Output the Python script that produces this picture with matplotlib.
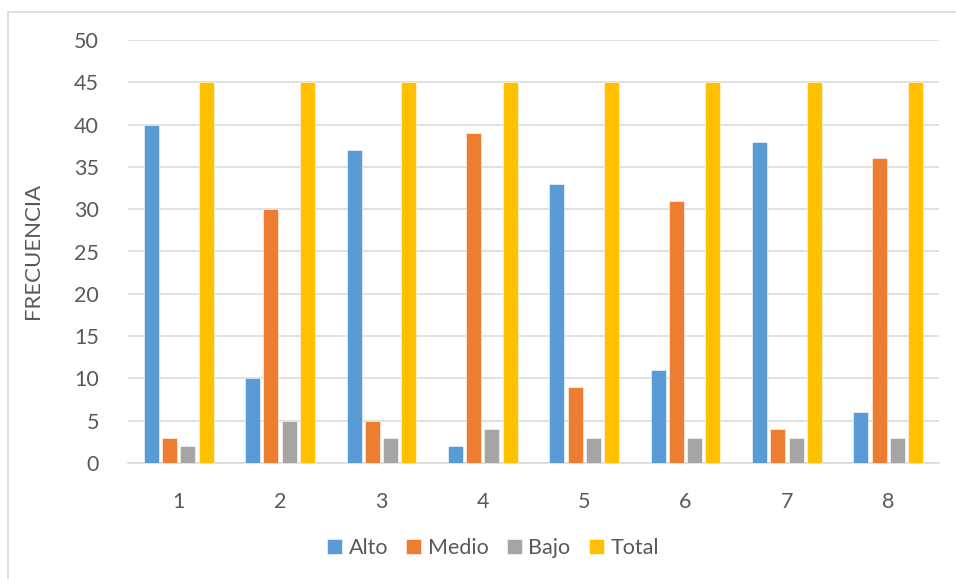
import matplotlib
matplotlib.use("Agg")
import matplotlib.pyplot as plt
import matplotlib.patches as mpatches
import numpy as np

categories = ["1", "2", "3", "4", "5", "6", "7", "8"]
alto = [40, 10, 37, 2, 33, 11, 38, 6]
medio = [3, 30, 5, 39, 9, 31, 4, 36]
bajo = [2, 5, 3, 4, 3, 3, 3, 3]
total = [45, 45, 45, 45, 45, 45, 45, 45]
series_names = ["Alto", "Medio", "Bajo", "Total"]
colors = ["#5B9BD5", "#ED7D31", "#A5A5A5", "#FFC000"]
yticks = [0, 5, 10, 15, 20, 25, 30, 35, 40, 45, 50]

plt.rcParams['font.family'] = ['Lato', 'DejaVu Sans']

W, H = 956, 579
fig = plt.figure(figsize=(W / 100, H / 100), dpi=100)
ax = fig.add_axes([128 / W, 1 - 463 / H, (939 - 128) / W, (463 - 40) / H])

x = np.arange(1, len(categories) + 1)
step = 0.18
width = 0.148
series = [alto, medio, bajo, total]
handles = []
for i, (vals, name, c) in enumerate(zip(series, series_names, colors)):
    b = ax.bar(x + (i - 1.5) * step, vals, width=width, color=c, label=name,
               edgecolor="white", linewidth=0.4, zorder=3)
    handles.append(b)

ax.set_xlim(0.5, len(categories) + 0.5)
ax.set_ylim(0, 50)
ax.set_yticks(yticks)
ax.set_xticks(x)
ax.set_xticklabels(categories)
ax.yaxis.grid(True, color="#D9D9D9", linewidth=1.1, zorder=0)
ax.set_axisbelow(True)
for s in ["top", "right", "left"]:
    ax.spines[s].set_visible(False)
ax.spines["bottom"].set_color("#D9D9D9")
ax.spines["bottom"].set_linewidth(1.1)
ax.tick_params(axis="both", length=0, labelsize=15.5, labelcolor="#595959")
ax.tick_params(axis="y", pad=21)
ax.tick_params(axis="x", pad=21)

fig.text(33 / W, 1 - 251 / H, "FRECUENCIA", rotation=90, ha="center", va="center",
         fontsize=16, color="#595959")

fig.legend(handles=handles, labels=series_names, loc="center",
           bbox_to_anchor=(493 / W, 1 - 548 / H), ncol=4, frameon=False,
           fontsize=15.5, labelcolor="#595959", handlelength=0.7, handleheight=0.7,
           handletextpad=0.3, columnspacing=0.85)

# outer chart border (only top and left visible)
border = mpatches.Rectangle((7.5 / W, -0.1), 2, (H - 11.5) / H + 0.1,
                            transform=fig.transFigure, fill=False,
                            edgecolor="#D9D9D9", linewidth=1.2)
fig.patches.append(border)

fig.savefig("out.png", dpi=100)
